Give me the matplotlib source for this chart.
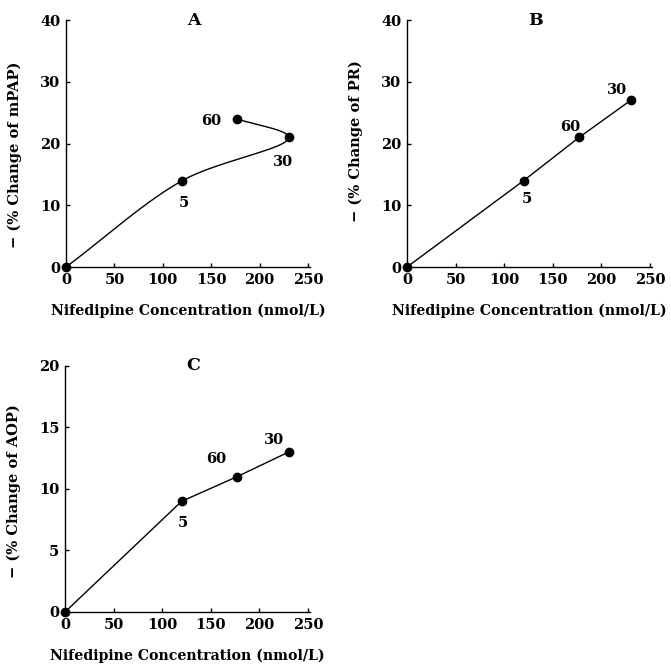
import numpy as np
import matplotlib
matplotlib.use("Agg")
import matplotlib.pyplot as plt

plt.rcParams['font.family'] = ['DejaVu Serif']
plt.rcParams['font.weight'] = 'bold'

# Data
conc_A = [0, 120, 230, 177]
mpap = [0, 14, 21, 24]
labels_A = ["5", "30", "60"]

conc_B = [0, 120, 177, 230]
pr = [0, 14, 21, 27]
labels_B = ["5", "60", "30"]

conc_C = [0, 120, 177, 230]
aop = [0, 9, 11, 13]
labels_C = ["5", "60", "30"]

x_ticks = [0, 50, 100, 150, 200, 250]
xlabel = "Nifedipine Concentration (nmol/L)"


def centripetal_cr(xs, ys, xscale, yscale, n=80, alpha=0.5):
    """Centripetal Catmull-Rom curve through the given points (style only)."""
    P = np.column_stack([np.asarray(xs, float) / xscale,
                         np.asarray(ys, float) / yscale])
    ext = np.vstack([2 * P[0] - P[1], P, 2 * P[-1] - P[-2]])
    pts = []
    for i in range(len(ext) - 3):
        p0, p1, p2, p3 = ext[i:i + 4]
        t0 = 0.0
        t1 = t0 + np.linalg.norm(p1 - p0) ** alpha
        t2 = t1 + np.linalg.norm(p2 - p1) ** alpha
        t3 = t2 + np.linalg.norm(p3 - p2) ** alpha
        t = np.linspace(t1, t2, n)[:, None]
        a1 = (t1 - t) / (t1 - t0) * p0 + (t - t0) / (t1 - t0) * p1
        a2 = (t2 - t) / (t2 - t1) * p1 + (t - t1) / (t2 - t1) * p2
        a3 = (t3 - t) / (t3 - t2) * p2 + (t - t2) / (t3 - t2) * p3
        b1 = (t2 - t) / (t2 - t0) * a1 + (t - t0) / (t2 - t0) * a2
        b2 = (t3 - t) / (t3 - t1) * a2 + (t - t1) / (t3 - t1) * a3
        c = (t2 - t) / (t2 - t1) * b1 + (t - t1) / (t2 - t1) * b2
        pts.append(c)
    pts = np.vstack(pts)
    return pts[:, 0] * xscale, pts[:, 1] * yscale


fig = plt.figure(figsize=(6.71, 6.67), dpi=100)

def style(ax, ymax, ystep, ylabel, title, ylab_y=0.5):
    ax.set_xlim(0, 252)
    ax.set_ylim(0, ymax)
    ax.set_xticks(x_ticks)
    ax.set_yticks(np.arange(0, ymax + 0.1, ystep))
    for s in ['top', 'right']:
        ax.spines[s].set_visible(False)
    for s in ['left', 'bottom']:
        ax.spines[s].set_linewidth(1.0)
    ax.tick_params(direction='in', length=3, width=1.0, labelsize=10.5, pad=4)
    for lab in ax.get_xticklabels() + ax.get_yticklabels():
        lab.set_fontweight('bold')
    ax.set_xlabel(xlabel, fontsize=10.2, fontweight='bold', labelpad=12)
    ax.set_ylabel(ylabel, fontsize=10.5, fontweight='bold')
    ax.yaxis.set_label_coords(-0.18, ylab_y)
    ax.text(0.525, 1.0, title, transform=ax.transAxes, ha='center', va='center',
            fontsize=12.5, fontweight='bold')

# Panel A
axA = fig.add_axes([0.0984, 0.5997, 0.3636, 0.370])
sx, sy = centripetal_cr(conc_A, mpap, 250 / 244, 40 / 247)
axA.plot(sx, sy, color='black', lw=1.0, clip_on=False)
axA.plot(conc_A, mpap, 'o', color='black', ms=6, clip_on=False)
style(axA, 40, 10, "− (% Change of mPAP)", "A", ylab_y=0.455)
for txt, (x, y) in zip(labels_A, [(122, 10.4), (224, 17.0), (150, 23.6)]):
    axA.text(x, y, txt, ha='center', va='center', fontsize=10.5, fontweight='bold')

# Panel B
axB = fig.add_axes([0.6066, 0.5997, 0.365, 0.370])
axB.plot(conc_B, pr, '-', color='black', lw=1.0, clip_on=False)
axB.plot(conc_B, pr, 'o', color='black', ms=6, clip_on=False)
style(axB, 40, 10, "− (% Change of PR)", "B", ylab_y=0.51)
for txt, (x, y) in zip(labels_B, [(123.5, 11.0), (168, 22.7), (216, 28.7)]):
    axB.text(x, y, txt, ha='center', va='center', fontsize=10.5, fontweight='bold')

# Panel C
axC = fig.add_axes([0.0969, 0.0825, 0.365, 0.3688])
axC.plot(conc_C, aop, '-', color='black', lw=1.0, clip_on=False)
axC.plot(conc_C, aop, 'o', color='black', ms=6, clip_on=False)
style(axC, 20, 5, "− (% Change of AOP)", "C", ylab_y=0.49)
for txt, (x, y) in zip(labels_C, [(121, 7.2), (156, 12.4), (215, 14.0)]):
    axC.text(x, y, txt, ha='center', va='center', fontsize=10.5, fontweight='bold')

fig.savefig("out.png", dpi=100)
